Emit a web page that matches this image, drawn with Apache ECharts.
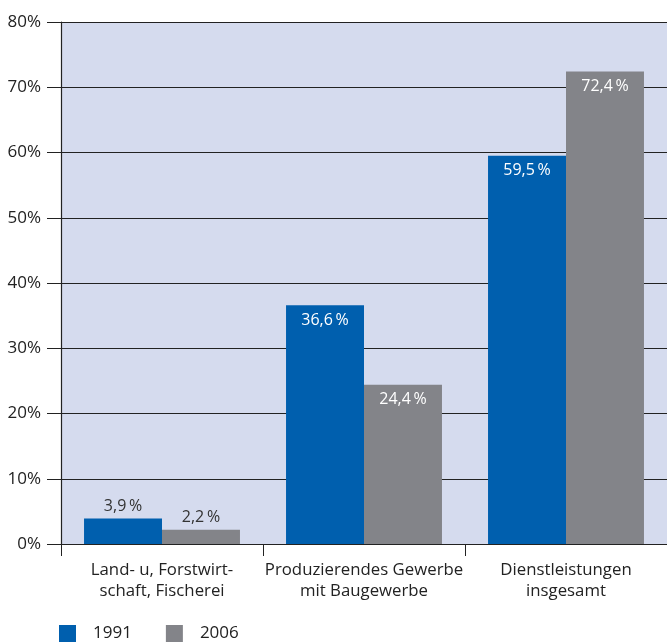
<!DOCTYPE html>
<html><head><meta charset="utf-8">
<script src="https://cdn.jsdelivr.net/npm/echarts@6/dist/echarts.min.js"></script>
<style>html,body{margin:0;padding:0;background:#fff}#c{width:667px;height:644px}</style>
</head><body><div id="c"></div>
<script>
const categories = ['Land- u, Forstwirt-\nschaft, Fischerei', 'Produzierendes Gewerbe\nmit Baugewerbe', 'Dienstleistungen\ninsgesamt'];
const series1991 = [3.9, 36.6, 59.5];
const series2006 = [2.2, 24.4, 72.4];
const yTicks = [0, 10, 20, 30, 40, 50, 60, 70, 80];
const FONT = 'Open Sans';
const fmt = v => v.toFixed(1).replace('.', ',') + '\u2009%';
function labelFor(v) {
  const inside = v > 10;
  return {
    value: v,
    label: {
      show: true,
      position: inside ? 'insideTop' : 'top',
      distance: inside ? 7 : 4,
      color: inside ? '#ffffff' : '#333333',
      fontSize: 16,
      fontFamily: FONT,
      formatter: p => fmt(p.value)
    }
  };
}
const chart = echarts.init(document.getElementById('c'));
chart.setOption({
  animation: false,
  grid: { left: 61, right: 0, top: 22, bottom: 100, show: true, backgroundColor: '#d5dbee', borderWidth: 0 },
  legend: {
    left: 54, top: 620, itemWidth: 17, itemHeight: 17, itemGap: 34,
    icon: 'rect',
    textStyle: { fontSize: 17, color: '#222', fontFamily: FONT, padding: [0, 0, 0, 12] },
    data: ['1991', '2006']
  },
  xAxis: {
    type: 'category', data: categories,
    axisLine: { show: true, lineStyle: { color: '#222', width: 1 } },
    axisTick: { show: true, length: 12, interval: 0, lineStyle: { color: '#222' } },
    axisLabel: { fontSize: 16.8, color: '#222', fontFamily: FONT, lineHeight: 21, margin: 16, interval: 0, hideOverlap: false }
  },
  yAxis: {
    type: 'value', min: yTicks[0], max: yTicks[yTicks.length - 1], interval: 10,
    axisLine: { show: true, lineStyle: { color: '#222', width: 1.2 } },
    axisTick: { show: true, length: 14, lineStyle: { color: '#222' } },
    splitLine: { show: true, lineStyle: { color: '#222', width: 1 } },
    axisLabel: { fontSize: 17, color: '#222', fontFamily: FONT, margin: 20, formatter: v => v + '%' }
  },
  series: [
    { name: '1991', type: 'bar', data: series1991.map(labelFor), itemStyle: { color: '#005fae' }, barGap: '0%', barCategoryGap: '22.8%' },
    { name: '2006', type: 'bar', data: series2006.map(labelFor), itemStyle: { color: '#838489' }, barGap: '0%', barCategoryGap: '22.8%' }
  ]
});
</script></body></html>
